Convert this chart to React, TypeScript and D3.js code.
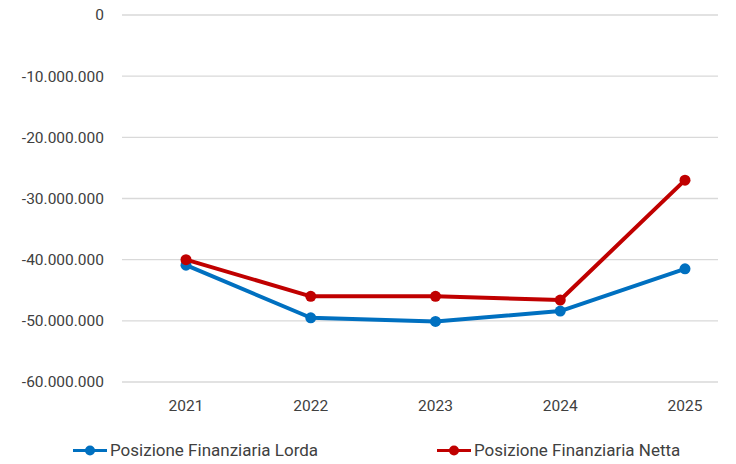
import { useRef, useEffect } from 'react';
import * as d3 from 'd3';

const years = ['2021', '2022', '2023', '2024', '2025'];
const lorda = [-40900000, -49500000, -50100000, -48400000, -41500000];
const netta = [-40000000, -46000000, -46000000, -46600000, -27000000];
const yTicks = [0, -10000000, -20000000, -30000000, -40000000, -50000000, -60000000];

const series = [
    { name: 'Posizione Finanziaria Lorda', values: lorda, color: '#0070C0' },
    { name: 'Posizione Finanziaria Netta', values: netta, color: '#C00000' },
];

export default function App() {
    const ref = useRef<SVGSVGElement>(null);

    useEffect(() => {
        if (!ref.current) return;
        const svg = d3.select(ref.current);
        svg.selectAll('*').remove();

        const font = 'Roboto, sans-serif';
        const gridLeft = 122;
        const gridRight = 718;

        const x = d3.scalePoint<string>().domain(years).range([186, 685]);
        const y = d3.scaleLinear().domain([-60000000, 0]).range([382, 15]);

        const fmt = (v: number) => d3.format(',')(v).replace(/,/g, '.').replace('−', '-');

        // Grid lines
        svg.append('g')
            .selectAll('line')
            .data(yTicks)
            .enter()
            .append('line')
            .attr('x1', gridLeft)
            .attr('x2', gridRight)
            .attr('y1', d => y(d))
            .attr('y2', d => y(d))
            .attr('stroke', '#d9d9d9')
            .attr('stroke-width', 1.3);

        // Y labels
        svg.append('g')
            .selectAll('text')
            .data(yTicks)
            .enter()
            .append('text')
            .attr('x', 104)
            .attr('y', d => y(d))
            .attr('dy', '0.35em')
            .attr('text-anchor', 'end')
            .attr('fill', '#404040')
            .attr('font-family', font)
            .attr('font-size', '15.5px')
            .text(d => fmt(d));

        // X labels
        svg.append('g')
            .selectAll('text')
            .data(years)
            .enter()
            .append('text')
            .attr('x', d => x(d)!)
            .attr('y', 406)
            .attr('dy', '0.35em')
            .attr('text-anchor', 'middle')
            .attr('fill', '#404040')
            .attr('font-family', font)
            .attr('font-size', '15.5px')
            .text(d => d);

        const line = d3.line<number>()
            .x((_, i) => x(years[i])!)
            .y(d => y(d));

        series.forEach(s => {
            const g = svg.append('g');
            g.append('path')
                .datum(s.values)
                .attr('d', line)
                .attr('fill', 'none')
                .attr('stroke', s.color)
                .attr('stroke-width', 4)
                .attr('stroke-linejoin', 'round')
                .attr('stroke-linecap', 'round');
            g.selectAll('circle')
                .data(s.values)
                .enter()
                .append('circle')
                .attr('cx', (_, i) => x(years[i])!)
                .attr('cy', d => y(d))
                .attr('r', 5.5)
                .attr('fill', s.color);
        });

        // Legend
        const legendX = [73, 437];
        series.forEach((s, i) => {
            const g = svg.append('g').attr('transform', `translate(${legendX[i]},450.5)`);
            g.append('line')
                .attr('x1', 0)
                .attr('x2', 34)
                .attr('stroke', s.color)
                .attr('stroke-width', 3);
            g.append('circle').attr('cx', 17).attr('r', 5).attr('fill', s.color);
            g.append('text')
                .attr('x', 37)
                .attr('dy', '0.35em')
                .attr('fill', '#404040')
                .attr('font-family', font)
                .attr('font-size', '17px')
                .text(s.name);
        });
    }, []);

    return (
        <svg
            ref={ref}
            width={736}
            height={464}
            style={{ position: 'absolute', left: 0, top: 0, background: '#fff' }}
        />
    );
}
